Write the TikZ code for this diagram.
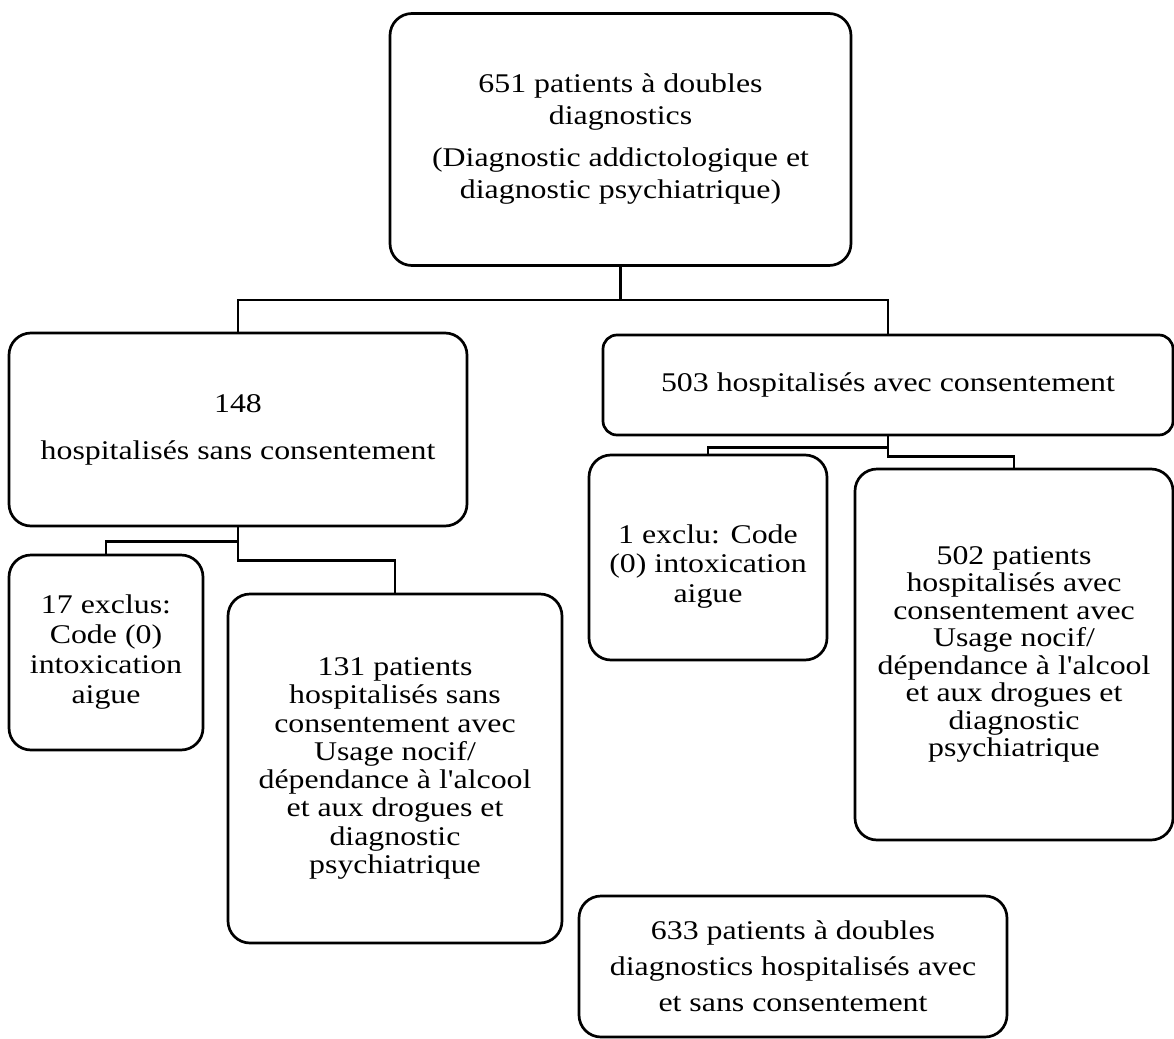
\documentclass[tikz,border=0pt]{standalone}
\usepackage{fontspec}
\setmainfont{Liberation Serif}[FakeStretch=1.18, Ligatures=TeXOff]

\tikzset{
  box/.style={draw, line width=1.35pt, rounded corners=11pt, align=center,
    inner sep=0pt, font=\fontsize{13.5}{14}\selectfont},
  link/.style={line width=1.35pt}
}

\begin{document}
\begin{tikzpicture}[x=0.5pt, y=-0.5pt]
\useasboundingbox (0,0) rectangle (1174,1039);

% top level
\node[box, minimum width=230.5pt, minimum height=126pt,
  font=\fontsize{13.5}{16}\selectfont] (top) at (620.5,139.5)
  {651 patients à doubles\\diagnostics\\[5pt]
   (Diagnostic addictologique et\\diagnostic psychiatrique)};

% second level
\node[box, minimum width=229pt, minimum height=96.5pt] (sans) at (238,429.5)
  {148\\[9.5pt]hospitalisés sans consentement};
\node[box, minimum width=285pt, minimum height=50pt, rounded corners=7pt] (avec) at (888,385)
  {503 hospitalisés avec consentement};

% third level, left
\node[box, minimum width=97pt, minimum height=97.5pt,
  font=\fontsize{13.5}{15}\selectfont] (exclA) at (106,652.5)
  {17 exclus:\\Code (0)\\intoxication\\aigue};
\node[box, minimum width=167pt, minimum height=174.5pt,
  font=\fontsize{13.5}{14.15}\selectfont] (sansOK) at (395,768.5)
  {131 patients\\hospitalisés sans\\consentement avec\\Usage nocif/\\
   dépendance à l'alcool\\et aux drogues et\\diagnostic\\psychiatrique};

% third level, right
\node[box, minimum width=119pt, minimum height=102.5pt,
  font=\fontsize{13.5}{14.75}\selectfont] (exclB) at (708,557.5)
  {\rule{0pt}{18pt}1 exclu: Code\\(0) intoxication\\aigue};
\node[box, minimum width=159pt, minimum height=185.5pt,
  font=\fontsize{13.5}{13.75}\selectfont] (avecOK) at (1014,654.5)
  {502 patients\\hospitalisés avec\\consentement avec\\Usage nocif/\\
   dépendance à l'alcool\\et aux drogues et\\diagnostic\\psychiatrique};

% total
\node[box, minimum width=214pt, minimum height=70.5pt,
  font=\fontsize{13.5}{18}\selectfont] (total) at (793,966.5)
  {633 patients à doubles\\diagnostics hospitalisés avec\\et sans consentement};

% links
\draw[link] (top.south) -- ++(0,33) coordinate (j0);
\draw[link] (j0) -| (sans.north);
\draw[link] (j0) -| (avec.north);

\draw[link] (sans.south) -- ++(0,14) -| (exclA.north);
\draw[link] (sans.south) -- ++(0,33) -| (sansOK.north);

\draw[link] (avec.south) -- ++(0,11) -| (exclB.north);
\draw[link] (avec.south) -- ++(0,20) -| (avecOK.north);

\end{tikzpicture}
\end{document}
